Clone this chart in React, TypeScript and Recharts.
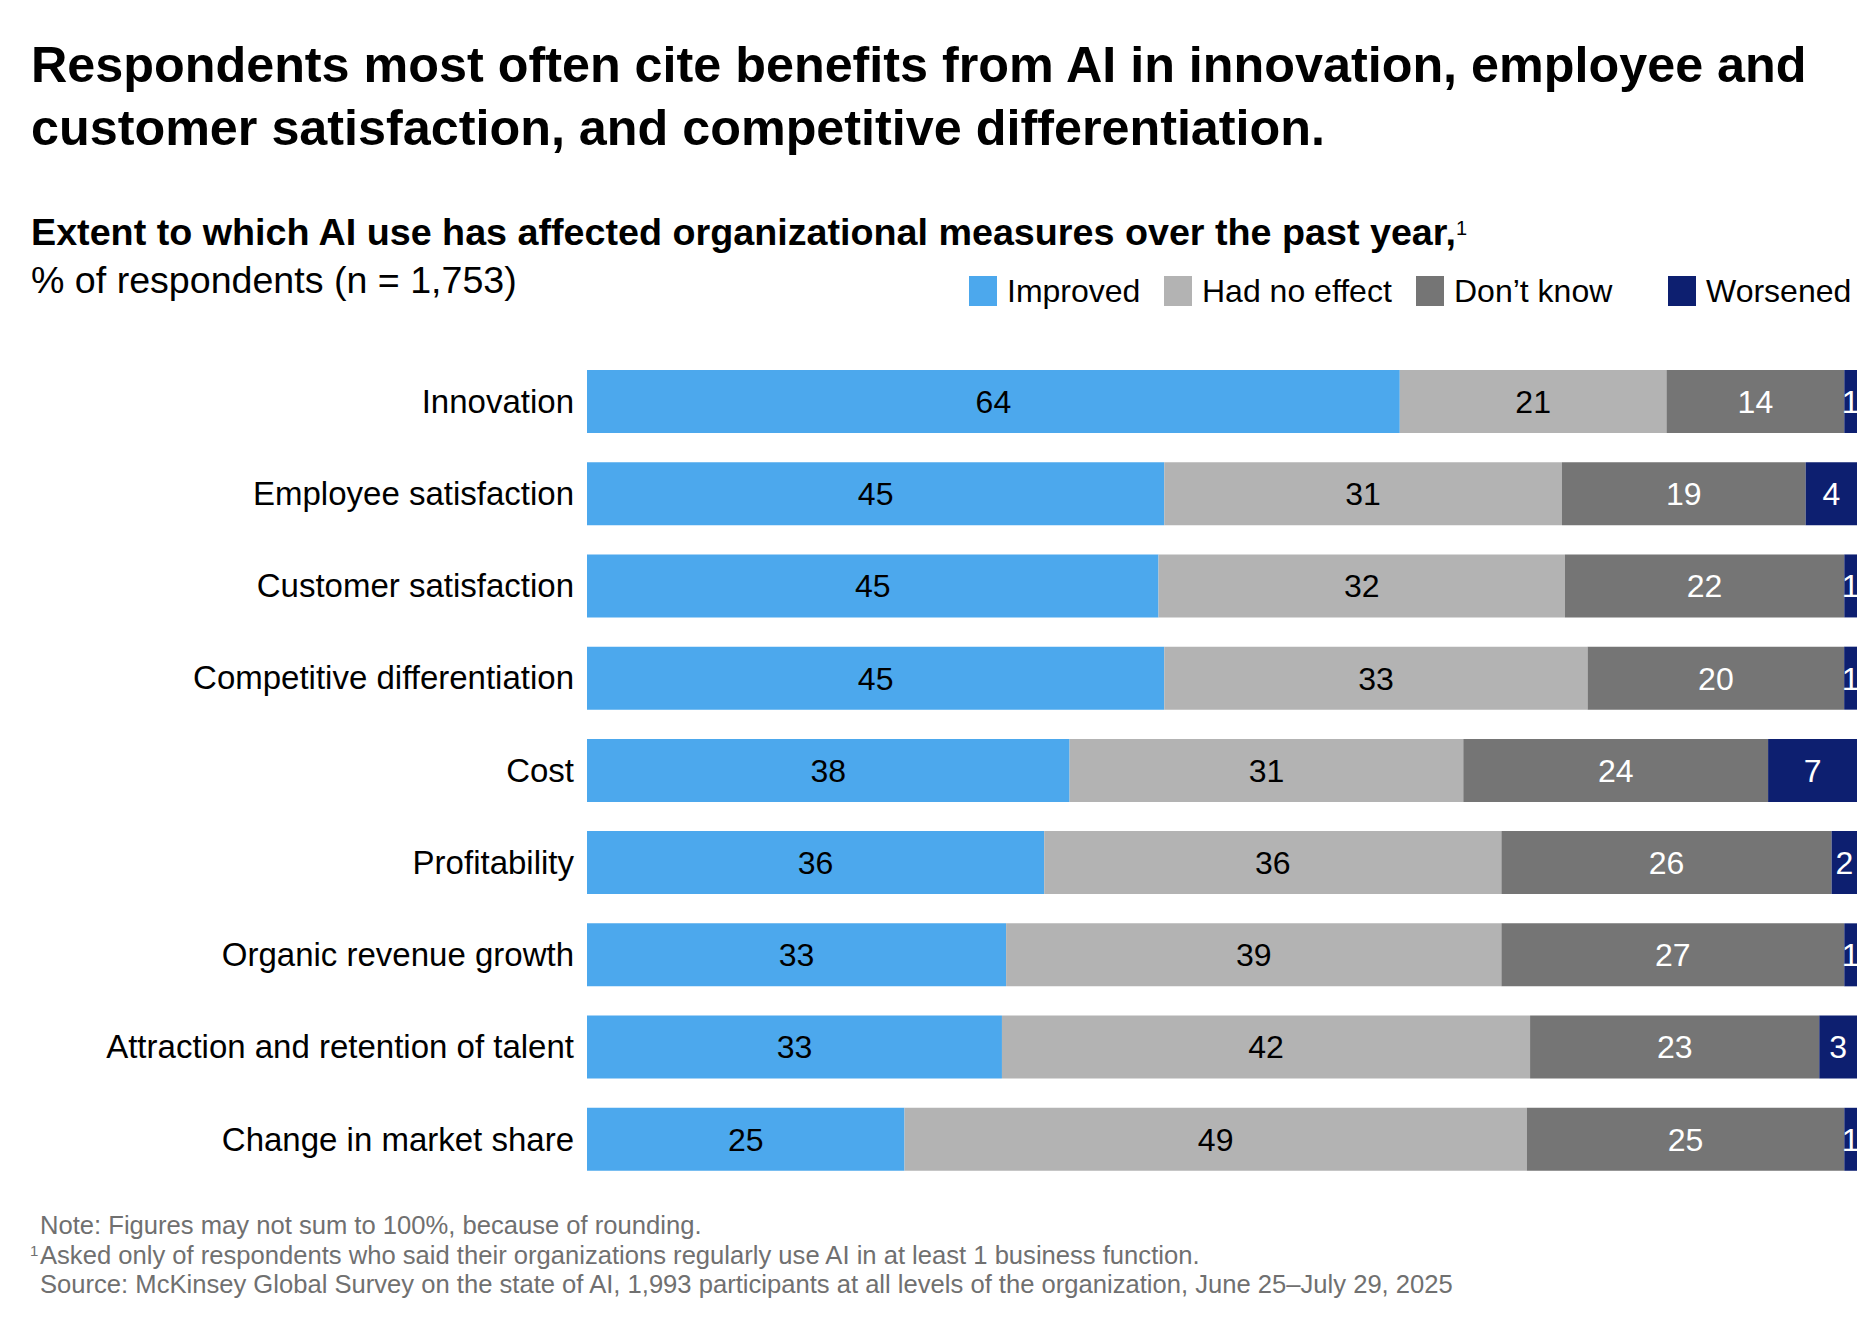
import { BarChart, Bar, XAxis, YAxis, LabelList } from 'recharts'

const categories = [
  'Innovation',
  'Employee satisfaction',
  'Customer satisfaction',
  'Competitive differentiation',
  'Cost',
  'Profitability',
  'Organic revenue growth',
  'Attraction and retention of talent',
  'Change in market share',
]

const improved = [64, 45, 45, 45, 38, 36, 33, 33, 25]
const noEffect = [21, 31, 32, 33, 31, 36, 39, 42, 49]
const dontKnow = [14, 19, 22, 20, 24, 26, 27, 23, 25]
const worsened = [1, 4, 1, 1, 7, 2, 1, 3, 1]

const seriesKeys = ['improved', 'noEffect', 'dontKnow', 'worsened']
const seriesNames = ['Improved', 'Had no effect', 'Don\u2019t know', 'Worsened']

const seriesColors: Record<string, string> = {
  improved: '#4ca8ed',
  noEffect: '#b3b3b3',
  dontKnow: '#757575',
  worsened: '#0d1f70',
}
const labelColors: Record<string, string> = {
  improved: '#000',
  noEffect: '#000',
  dontKnow: '#fff',
  worsened: '#fff',
}

// legend item left edges
const legendLeft = [969, 1164, 1416, 1668]

const rows = categories.map((name, i) => ({
  name,
  improved: improved[i],
  noEffect: noEffect[i],
  dontKnow: dontKnow[i],
  worsened: worsened[i],
}))

const font = '"Liberation Sans", Arial, sans-serif'

export default function App() {
  return (
    <div
      style={{
        position: 'absolute',
        left: 0,
        top: 0,
        width: 1863,
        height: 1321,
        background: '#fff',
        fontFamily: font,
        color: '#000',
      }}
    >
      <div
        style={{
          position: 'absolute',
          left: 31,
          top: 33,
          fontSize: 50.3,
          lineHeight: '63px',
          fontWeight: 700,
          width: 1830,
        }}
      >
        Respondents most often cite benefits from AI in innovation, employee and
        <br />
        customer satisfaction, and competitive differentiation.
      </div>

      <div style={{ position: 'absolute', left: 31, top: 210, fontSize: 37.7, lineHeight: '44px', fontWeight: 700 }}>
        Extent to which AI use has affected organizational measures over the past year,
        <sup style={{ fontSize: 20, fontWeight: 400, verticalAlign: 'top', position: 'relative', top: -4 }}>1</sup>
      </div>
      <div style={{ position: 'absolute', left: 31, top: 258, fontSize: 37.6, lineHeight: '44px' }}>
        % of respondents (n = 1,753)
      </div>

      {seriesKeys.map((k, i) => (
        <div
          key={k}
          style={{
            position: 'absolute',
            left: legendLeft[i],
            top: 276,
            height: 30,
            display: 'flex',
            alignItems: 'center',
            fontSize: 32,
            whiteSpace: 'nowrap',
          }}
        >
          <span style={{ width: 28, height: 30, background: seriesColors[k], marginRight: 10 }} />
          {seriesNames[i]}
        </div>
      ))}

      <div style={{ position: 'absolute', left: 0, top: 355 }}>
        <BarChart
          width={1863}
          height={830}
          data={rows}
          layout="vertical"
          stackOffset="expand"
          barSize={63}
          margin={{ top: 0, right: 6, bottom: 0, left: 0 }}
        >
          <XAxis type="number" hide domain={[0, 1]} />
          <YAxis
            type="category"
            dataKey="name"
            width={587}
            axisLine={false}
            tickLine={false}
            tickSize={0}
            tickMargin={13}
            interval={0}
            tick={{ fontSize: 33, fill: '#000' }}
          />
          {seriesKeys.map((k, i) => (
            <Bar
              key={k}
              dataKey={k}
              name={seriesNames[i]}
              stackId="a"
              fill={seriesColors[k]}
              isAnimationActive={false}
            >
              <LabelList dataKey={k} position="center" fill={labelColors[k]} fontSize={32} />
            </Bar>
          ))}
        </BarChart>
      </div>

      <div style={{ position: 'absolute', left: 40, top: 1211, fontSize: 25.6, lineHeight: '29.5px', color: '#707070' }}>
        <div>Note: Figures may not sum to 100%, because of rounding.</div>
        <div style={{ position: 'relative' }}>
          <span style={{ position: 'absolute', left: -10, top: -5, fontSize: 15 }}>1</span>
          Asked only of respondents who said their organizations regularly use AI in at least 1 business function.
        </div>
        <div style={{ whiteSpace: 'nowrap' }}>
          Source: McKinsey Global Survey on the state of AI, 1,993 participants at all levels of the organization, June
          25–July 29, 2025
        </div>
      </div>
    </div>
  )
}
